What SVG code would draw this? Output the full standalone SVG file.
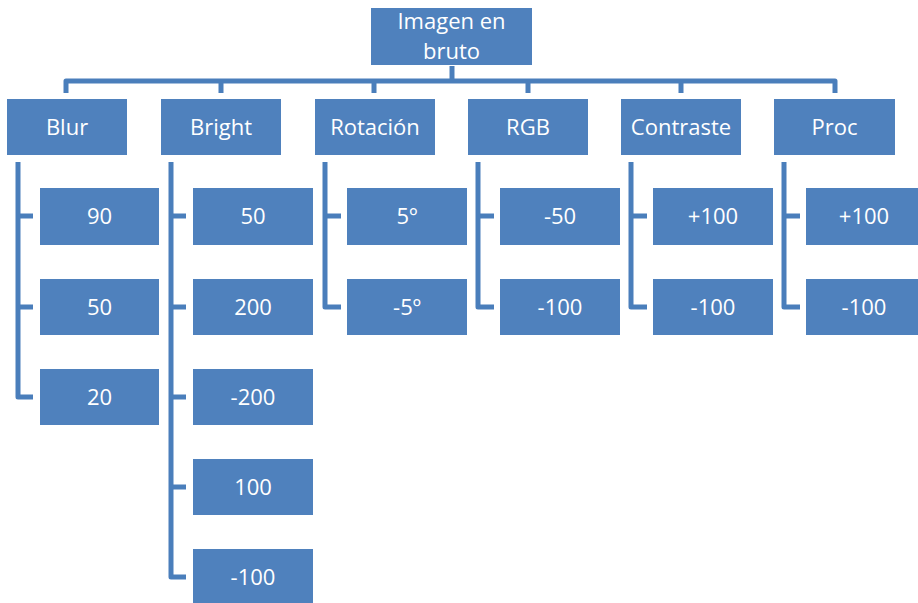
<svg xmlns="http://www.w3.org/2000/svg" width="918" height="603" viewBox="0 0 918 603">
<style>
.box{fill:#4F81BD;}
.t{fill:#ffffff;font-family:"Open Sans","Liberation Sans",sans-serif;font-size:22px;text-anchor:middle;}
.c{fill:none;stroke:#4A7EBB;stroke-width:5;stroke-linejoin:round;}
</style>
<rect width="918" height="603" fill="#ffffff"/>
<g id="connectors">
<path class="c" d="M66,93 V81 H835 V93"/>
<path class="c" d="M452,66 V81"/>
<path class="c" d="M221,81 V93 M374,81 V93 M528,81 V93 M681,81 V93"/>
<path class="c" d="M18,162 V397 H33 M18,216 H33 M18,307 H33"/>
<path class="c" d="M171,162 V577 H186 M171,216 H186 M171,307 H186 M171,397 H186 M171,487 H186"/>
<path class="c" d="M325,162 V307 H341 M325,216 H341"/>
<path class="c" d="M478,162 V307 H494 M478,216 H494"/>
<path class="c" d="M631,162 V307 H647 M631,216 H647"/>
<path class="c" d="M784,162 V307 H800 M784,216 H800"/>
</g>
<g id="root"><rect class="box" x="371" y="8" width="161" height="57"/><text class="t" x="451.5" y="29">Imagen en</text><text class="t" x="451.5" y="59">bruto</text></g>
<g id="blur"><rect class="box" x="7" y="99" width="120" height="56"/><text class="t" x="67" y="135">Blur</text></g>
<g id="bright"><rect class="box" x="161" y="99" width="120" height="56"/><text class="t" x="221" y="135">Bright</text></g>
<g id="rotacion"><rect class="box" x="315" y="99" width="120" height="56"/><text class="t" x="375" y="135">Rotación</text></g>
<g id="rgb"><rect class="box" x="468" y="99" width="120" height="56"/><text class="t" x="528" y="135">RGB</text></g>
<g id="contraste"><rect class="box" x="621" y="99" width="120" height="56"/><text class="t" x="681" y="135">Contraste</text></g>
<g id="proc"><rect class="box" x="774" y="99" width="121" height="56"/><text class="t" x="834.5" y="135">Proc</text></g>
<g id="blur-90"><rect class="box" x="40" y="188" width="119" height="57"/><text class="t" x="99.5" y="224">90</text></g>
<g id="blur-50"><rect class="box" x="40" y="279" width="119" height="56"/><text class="t" x="99.5" y="315">50</text></g>
<g id="blur-20"><rect class="box" x="40" y="369" width="119" height="56"/><text class="t" x="99.5" y="405">20</text></g>
<g id="bright-50"><rect class="box" x="193" y="188" width="120" height="57"/><text class="t" x="253" y="224">50</text></g>
<g id="bright-200"><rect class="box" x="193" y="279" width="120" height="56"/><text class="t" x="253" y="315">200</text></g>
<g id="bright-m200"><rect class="box" x="193" y="369" width="120" height="56"/><text class="t" x="253" y="405">-200</text></g>
<g id="bright-100"><rect class="box" x="193" y="459" width="120" height="56"/><text class="t" x="253" y="495">100</text></g>
<g id="bright-m100"><rect class="box" x="193" y="549" width="120" height="56"/><text class="t" x="253" y="585">-100</text></g>
<g id="rot-5"><rect class="box" x="347" y="188" width="120" height="57"/><text class="t" x="407" y="224">5º</text></g>
<g id="rot-m5"><rect class="box" x="347" y="279" width="120" height="56"/><text class="t" x="407" y="315">-5º</text></g>
<g id="rgb-m50"><rect class="box" x="500" y="188" width="120" height="57"/><text class="t" x="560" y="224">-50</text></g>
<g id="rgb-m100"><rect class="box" x="500" y="279" width="120" height="56"/><text class="t" x="560" y="315">-100</text></g>
<g id="con-p100"><rect class="box" x="653" y="188" width="120" height="57"/><text class="t" x="713" y="224">+100</text></g>
<g id="con-m100"><rect class="box" x="653" y="279" width="120" height="56"/><text class="t" x="713" y="315">-100</text></g>
<g id="proc-p100"><rect class="box" x="806" y="188" width="120" height="57"/><text class="t" x="864" y="224">+100</text></g>
<g id="proc-m100"><rect class="box" x="806" y="279" width="120" height="56"/><text class="t" x="864" y="315">-100</text></g>
</svg>
